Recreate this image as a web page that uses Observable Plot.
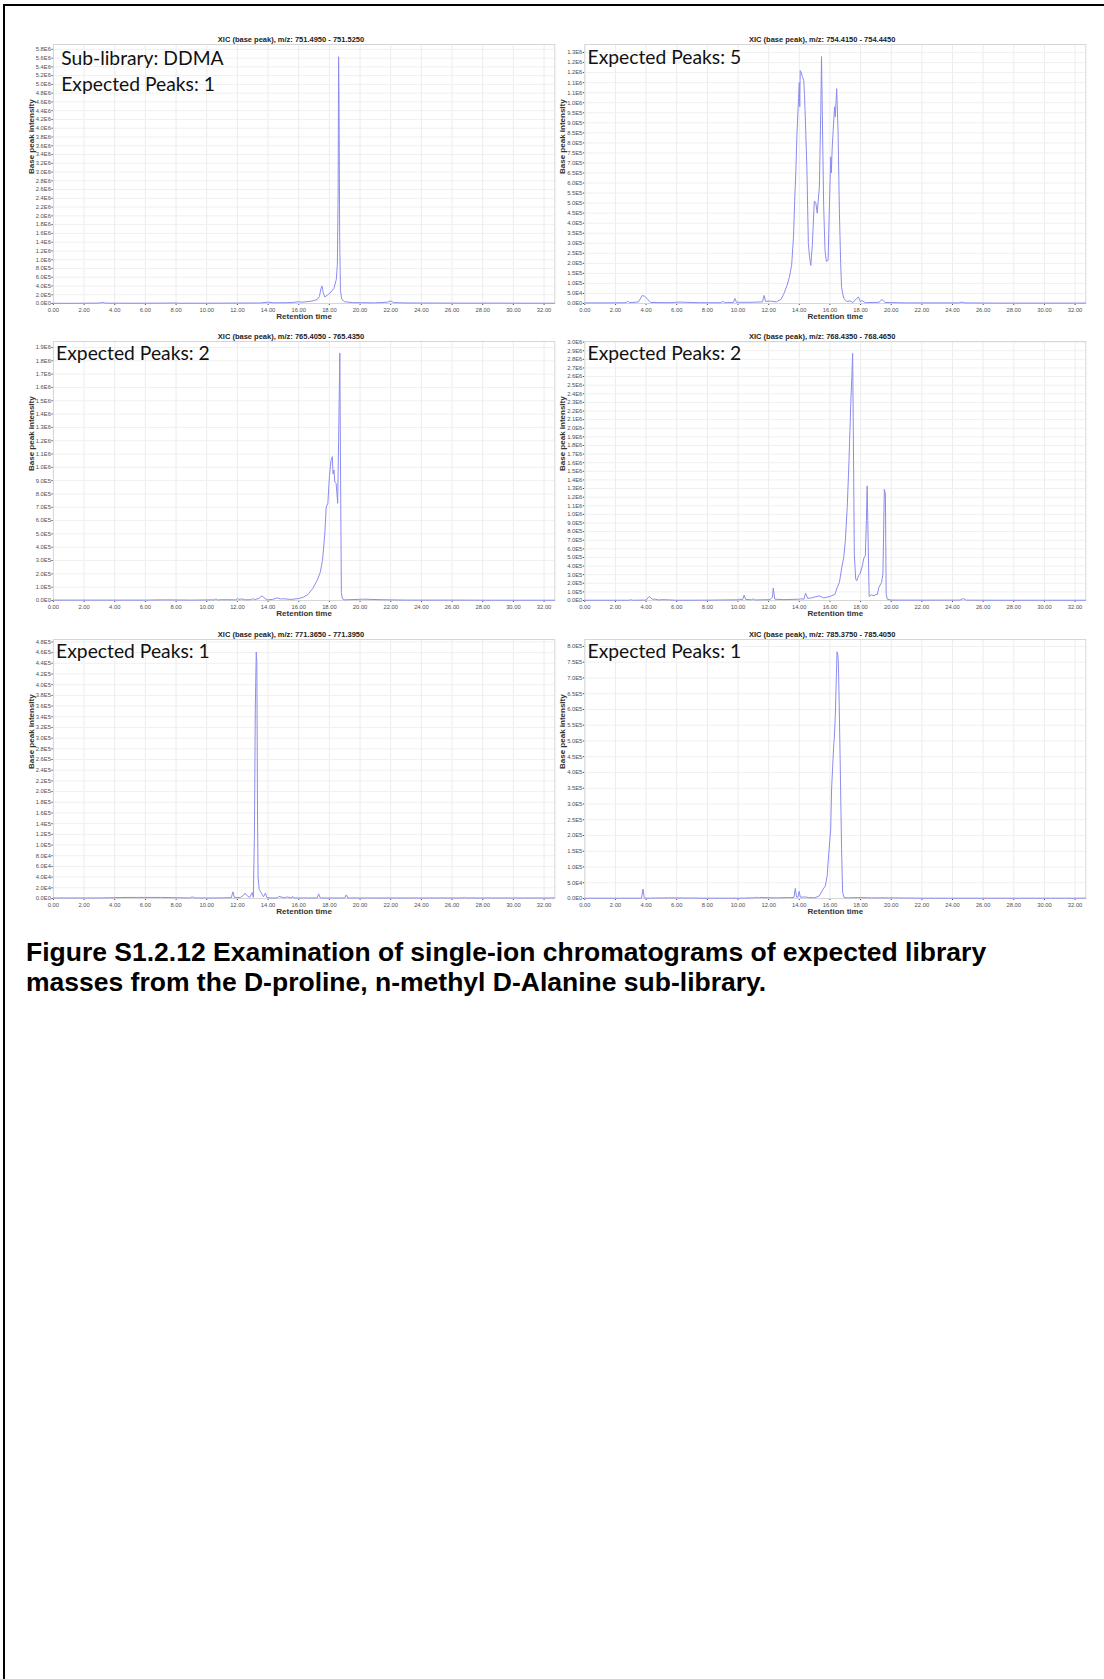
<!DOCTYPE html>
<html>
<head>
<meta charset="utf-8">
<script src="https://cdn.jsdelivr.net/npm/d3@7"></script>
<script src="https://cdn.jsdelivr.net/npm/@observablehq/plot@0.6"></script>
<style>
  body { margin: 0; background: #fff; }
  #page { position: relative; width: 1104px; height: 1679px; overflow: hidden; background: #fff; }
  #edge { position: absolute; left: 3px; top: 4px; right: -10px; bottom: -10px;
          border-top: 2px solid #000; border-left: 2px solid #000; z-index: 5; pointer-events: none; }
  #caption { position: absolute; left: 26px; top: 937px; color: #000;
             font: bold 26.5px "Liberation Sans", Arial, sans-serif; line-height: 30px; white-space: nowrap; }
</style>
</head>
<body>
<div id="page">
  <div id="edge"></div>
  <div id="caption">Figure S1.2.12 Examination of single-ion chromatograms of expected library<br>masses from the D-proline, n-methyl D-Alanine sub-library.</div>
</div>
<script>
// Extracted-ion chromatograms (retention time in min, base peak intensity in counts)

const xic751Time = [0, 1.0, 2.0, 3.0, 3.2, 3.4, 5.0, 7.0, 8.0, 8.2, 10.0, 12.0, 13.5, 14.0, 14.4, 15.5, 16.0, 16.2, 16.8, 17.2,
  17.35, 17.45, 17.52, 17.6, 17.7, 17.9, 18.1, 18.3, 18.45, 18.52, 18.57, 18.6, 18.63, 18.67, 18.72, 18.8, 19.0, 19.5, 21.0, 21.8,
  22.0, 22.2, 23.0, 25.0, 27.0, 29.0, 31.0, 32.68];
const xic751Intensity = [5e3, 4e3, 6e3, 1e4, 2.5e4, 8e3, 6e3, 8e3, 1.2e4, 6e3, 7e3, 1e4, 1.2e4, 3e4, 1.5e4, 2e4, 4e4, 3e4, 5e4, 9e4,
  1.6e5, 3.4e5, 4.0e5, 2.4e5, 1.5e5, 2.0e5, 2.6e5, 3.5e5, 5.5e5, 9e5, 2.5e6, 5.63e6, 4.5e6, 1.5e6, 3e5, 1e5, 4e4, 2e4, 1.5e4, 3e4,
  6e4, 2e4, 1.2e4, 1e4, 8e3, 9e3, 7e3, 6e3];

const xic754Time = [0, 1.5, 2.7, 2.8, 2.9, 3.5, 3.75, 3.9, 4.05, 4.3, 5.5, 6.2, 7.5, 8.9, 9.0, 9.1, 9.7, 9.8, 9.9, 10.8,
  11.6, 11.7, 11.8, 12.1, 12.5, 12.8, 13.0, 13.2, 13.35, 13.5, 13.62, 13.72, 13.76, 13.85, 13.95, 14.0, 14.03, 14.06, 14.13, 14.2,
  14.29, 14.34, 14.42, 14.5, 14.59, 14.67, 14.75, 14.85, 14.98, 15.08, 15.17, 15.22, 15.31, 15.4, 15.45, 15.49, 15.54, 15.59, 15.68, 15.77,
  15.88, 15.97, 16.05, 16.09, 16.15, 16.21, 16.3, 16.35, 16.44, 16.53, 16.62, 16.7, 16.76, 16.9, 17.1, 17.3, 17.5, 17.85, 17.9, 18.0,
  18.1, 18.3, 19.2, 19.4, 19.6, 21.0, 24.4, 24.6, 24.8, 27.0, 30.0, 32.68];
const xic754Intensity = [3e3, 3e3, 4e3, 1.2e4, 4e3, 8e3, 4e4, 3.6e4, 2.5e4, 5e3, 4e3, 7e3, 4e3, 4e3, 1.2e4, 4e3, 5e3, 2.5e4, 6e3, 6e3,
  8e3, 4e4, 1e4, 1.2e4, 8e3, 2e4, 5e4, 9e4, 1.3e5, 1.9e5, 3.3e5, 5.6e5, 6.2e5, 8.5e5, 1.02e6, 1.1e6, 9.8e5, 1.16e6, 1.15e6, 1.13e6,
  1.11e6, 1.04e6, 8.6e5, 6.6e5, 3.0e5, 2.3e5, 1.9e5, 2.9e5, 5.1e5, 5.0e5, 4.5e5, 5.0e5, 5.8e5, 9.5e5, 1.23e6, 1.02e6, 7.5e5, 4.9e5, 2.6e5, 2.1e5,
  2.15e5, 5.0e5, 7.3e5, 6.5e5, 7.8e5, 8.6e5, 9.8e5, 9.3e5, 1.07e6, 8.6e5, 4.5e5, 2.0e5, 8e4, 2.5e4, 1e4, 1.3e4, 5e3, 3.3e4, 2.5e4, 8e3,
  1.5e4, 4e3, 6e3, 2e4, 5e3, 3e3, 3e3, 7e3, 3e3, 2e3, 2e3, 2e3];

const xic765Time = [0, 3, 6, 7.2, 9, 10.5, 10.6, 10.7, 11.0, 11.9, 12.0, 12.1, 12.3, 12.5, 12.9, 13.0, 13.1, 13.4, 13.6, 13.8,
  13.95, 14.3, 14.6, 14.8, 15.0, 15.5, 16.0, 16.3, 16.6, 16.9, 17.2, 17.4, 17.55, 17.7, 17.79, 17.9, 18.0, 18.1, 18.19, 18.24,
  18.3, 18.35, 18.44, 18.54, 18.6, 18.68, 18.73, 18.78, 18.85, 19.0, 19.8, 20.2, 21.3, 23, 26, 29, 32.68];
const xic765Intensity = [3e3, 3e3, 3e3, 5e3, 3e3, 5e3, 1.2e4, 4e3, 6e3, 5e3, 1.5e4, 8e3, 1.2e4, 5e3, 6e3, 1.5e4, 6e3, 1.5e4, 3.5e4, 1.5e4,
  5e3, 8e3, 2e4, 1.2e4, 1.3e4, 8e3, 1.5e4, 2.5e4, 4.5e4, 8.8e4, 1.5e5, 2.1e5, 3e5, 5e5, 7e5, 7.3e5, 9.3e5, 1.05e6, 1.08e6, 9.5e5,
  9.8e5, 8.9e5, 8.8e5, 7.3e5, 1.2e6, 1.857e6, 9e5, 6e4, 1.2e4, 5e3, 8e3, 1e4, 6e3, 3e3, 3e3, 2e3, 2e3];

const xic768Time = [0, 2.9, 3.0, 3.1, 4.0, 4.2, 4.4, 4.6, 4.8, 5.1, 6, 8, 10.0, 10.1, 10.3, 10.4, 10.5, 10.9, 11.0, 11.1,
  12.1, 12.25, 12.3, 12.4, 13, 14.0, 14.1, 14.3, 14.41, 14.55, 14.8, 15.0, 15.3, 15.6, 16.0, 16.32, 16.48, 16.62, 16.78, 16.9,
  17.01, 17.13, 17.24, 17.36, 17.43, 17.48, 17.52, 17.59, 17.68, 17.75, 17.87, 17.96, 18.1, 18.21, 18.31, 18.38, 18.43, 18.47, 18.56, 18.7,
  18.88, 19.0, 19.09, 19.2, 19.37, 19.46, 19.55, 19.62, 19.67, 19.74, 20.0, 22, 24.5, 24.7, 24.9, 27, 30, 32.68];
const xic768Intensity = [3e3, 3e3, 1e4, 3e3, 5e3, 4.7e4, 1.5e4, 1.5e4, 6e3, 1e4, 3e3, 4e3, 8e3, 1.5e4, 8e3, 6.2e4, 1.2e4, 8e3, 2e4, 6e3,
  1e4, 4e4, 1.44e5, 1.5e4, 1e4, 1.5e4, 2e4, 1.5e4, 8.5e4, 2.5e4, 3e4, 4e4, 5.4e4, 3e4, 4.7e4, 7e4, 1.55e5, 2.1e5, 3.9e5, 5e5,
  7e5, 1.09e6, 1.6e6, 2.29e6, 2.6e6, 2.87e6, 2.1e6, 5.4e5, 2.5e5, 2.3e5, 2.9e5, 3.1e5, 3.9e5, 4.9e5, 5.2e5, 9.3e5, 1.33e6, 9.3e5, 4.7e4, 6.6e4,
  5.4e4, 7e4, 7e4, 1.55e5, 2.1e5, 3.1e5, 1.29e6, 1.24e6, 7.8e4, 1.5e4, 5e3, 4e3, 5e3, 2.3e4, 4e3, 3e3, 3e3, 3e3];

const xic771Time = [0, 3, 4.8, 5.5, 7.0, 8.9, 9.05, 9.25, 10.5, 11.6, 11.71, 11.8, 12.2, 12.4, 12.5, 12.65, 12.8, 12.97, 13.04, 13.11,
  13.17, 13.23, 13.27, 13.31, 13.35, 13.42, 13.55, 13.7, 13.83, 13.92, 14.2, 14.6, 14.7, 15.1, 15.2, 15.55, 15.6, 15.7, 17.2, 17.3,
  17.4, 19.0, 19.1, 19.2, 22, 26.7, 26.8, 26.9, 30, 32.68];
const xic771Intensity = [1e3, 1e3, 2e3, 2e3, 2e3, 1e3, 3e3, 1e3, 1e3, 1.5e3, 1.25e4, 2e3, 2e3, 6e3, 1e4, 5e3, 2e3, 1.1e4, 2e3, 1.2e5,
  3.6e5, 4.61e5, 4.4e5, 1.6e5, 4e4, 1.7e4, 1.1e4, 3e3, 1e4, 2e3, 1e3, 1e3, 4e3, 1e3, 3e3, 1e3, 4e3, 1e3, 1e3, 8.7e3,
  1e3, 1e3, 6.8e3, 1e3, 1e3, 1e3, 2e3, 1e3, 1e3, 1e3];

const xic785Time = [0, 2, 3.7, 3.8, 3.88, 4.0, 5.5, 8, 10, 11.1, 11.2, 11.35, 11.5, 12.5, 13.3, 13.65, 13.74, 13.82, 13.92, 13.99,
  14.07, 14.4, 14.6, 15.0, 15.3, 15.56, 15.7, 15.82, 15.91, 16.05, 16.11, 16.18, 16.25, 16.28, 16.35, 16.42, 16.46, 16.51, 16.55, 16.6,
  16.69, 16.76, 16.83, 16.92, 17.2, 17.8, 18.7, 19.9, 22, 26, 32.68];
const xic785Intensity = [1e3, 1e3, 1e3, 3e4, 2e3, 1e3, 2e3, 1e3, 1e3, 2e3, 4e3, 2e3, 3e3, 2e3, 3e3, 3e3, 3.2e4, 4e3, 5e3, 2.3e4,
  4e3, 5e3, 3e3, 2e3, 8e3, 3e4, 4e4, 7.2e4, 1.35e5, 2.2e5, 3.5e5, 4.2e5, 4.9e5, 5.05e5, 5.8e5, 7.06e5, 7.83e5, 7.75e5, 7.5e5, 6.3e5,
  3.7e5, 1.56e5, 1.9e4, 3e3, 2e3, 3e3, 2e3, 2e3, 1e3, 1e3, 1e3];

// Panel headings and annotations
const panelTitles = [
  "XIC (base peak), m/z: 751.4950 - 751.5250",
  "XIC (base peak), m/z: 754.4150 - 754.4450",
  "XIC (base peak), m/z: 765.4050 - 765.4350",
  "XIC (base peak), m/z: 768.4350 - 768.4650",
  "XIC (base peak), m/z: 771.3650 - 771.3950",
  "XIC (base peak), m/z: 785.3750 - 785.4050"
];
const panelNotes = [
  "Sub-library: DDMA\nExpected Peaks: 1",
  "Expected Peaks: 5",
  "Expected Peaks: 2",
  "Expected Peaks: 2",
  "Expected Peaks: 1",
  "Expected Peaks: 1"
];
const xLabel = "Retention time";
const yLabel = "Base peak intensity";

// Axis extents and tick spacing per panel
const xTickValues = [0, 2, 4, 6, 8, 10, 12, 14, 16, 18, 20, 22, 24, 26, 28, 30, 32];
const xDomainMax = 32.7;
const yDomainMax = [5.91e6, 1.29e6, 1.945e6, 3.007e6, 4.845e5, 8.22e5];
const yTickLast = [5.8e6, 1.25e6, 1.9e6, 3.0e6, 4.8e5, 8.0e5];
const yTickStep = [2e5, 5e4, 1e5, 1e5, 2e4, 5e4];

const series = [
  [xic751Time, xic751Intensity],
  [xic754Time, xic754Intensity],
  [xic765Time, xic765Intensity],
  [xic768Time, xic768Intensity],
  [xic771Time, xic771Intensity],
  [xic785Time, xic785Intensity]
];

// Tick labels in the instrument software's style: 1.2E6, 5.0E4, 0.0E0
const sci = v => {
  const [m, e] = v.toExponential(1).split("e");
  return m + "E" + (+e);
};

const page = document.getElementById("page");
const H = 303;
// column geometry: svg left offset, svg width, inner margins
const cols = [
  {left: 0, width: 560, mLeft: 52.9, mRight: 5.7},
  {left: 530, width: 574, mLeft: 54.3, mRight: 18.7}
];

series.forEach(([times, values], i) => {
  const col = i % 2, row = Math.floor(i / 2);
  const c = cols[col];
  const data = times.map((t, k) => ({t, v: values[k]}));
  const yTicks = d3.range(0, yTickLast[i] + yTickStep[i] / 2, yTickStep[i]);
  const single = !panelNotes[i].includes("\n");

  const chart = Plot.plot({
    width: c.width,
    height: H,
    marginLeft: c.mLeft,
    marginRight: c.mRight,
    marginTop: 20,
    marginBottom: 24,
    style: {
      fontFamily: "'Liberation Sans', Arial, sans-serif",
      fontSize: "5.8px",
      color: "#505050",
      background: "transparent"
    },
    x: {domain: [0, xDomainMax], ticks: xTickValues, tickFormat: d => d.toFixed(2), tickSize: 2, tickPadding: 2, label: null},
    y: {domain: [0, yDomainMax[i]], ticks: yTicks, tickFormat: sci, tickSize: 1.5, tickPadding: 1, label: null},
    marks: [
      Plot.ruleX(xTickValues, {stroke: "#ececec", strokeWidth: 1}),
      Plot.ruleY(yTicks, {stroke: "#f0f0f0", strokeWidth: 1}),
      Plot.frame({stroke: "#d6d6d6"}),
      Plot.line(data, {x: "t", y: "v", stroke: "#8c8cf0", strokeWidth: 1}),
      Plot.text([panelTitles[i]], {
        frameAnchor: "top", dx: -13.1, dy: -8,
        fontWeight: "bold", fontSize: 7.5, fill: "#222"
      }),
      Plot.text([xLabel], {
        frameAnchor: "bottom", dy: 15,
        fontWeight: "bold", fontSize: 8, fill: "#333"
      }),
      Plot.text([yLabel], {
        frameAnchor: "left", dx: -21.9, rotate: -90,
        fontWeight: "bold", fontSize: 8, fill: "#333"
      }),
      Plot.text([panelNotes[i]], {
        frameAnchor: "top-left", textAnchor: "start", lineAnchor: "middle",
        dx: i === 0 ? 7.8 : 2.7, dy: single ? (i === 1 ? 11 : 10) : 25.5,
        fontFamily: "Lato", fontSize: 19.3, lineHeight: 1.3, fill: "#111"
      })
    ]
  });

  chart.style.position = "absolute";
  chart.style.left = c.left + "px";
  chart.style.top = (24 + row * 297.3) + "px";
  page.appendChild(chart);
});
</script>
</body>
</html>
